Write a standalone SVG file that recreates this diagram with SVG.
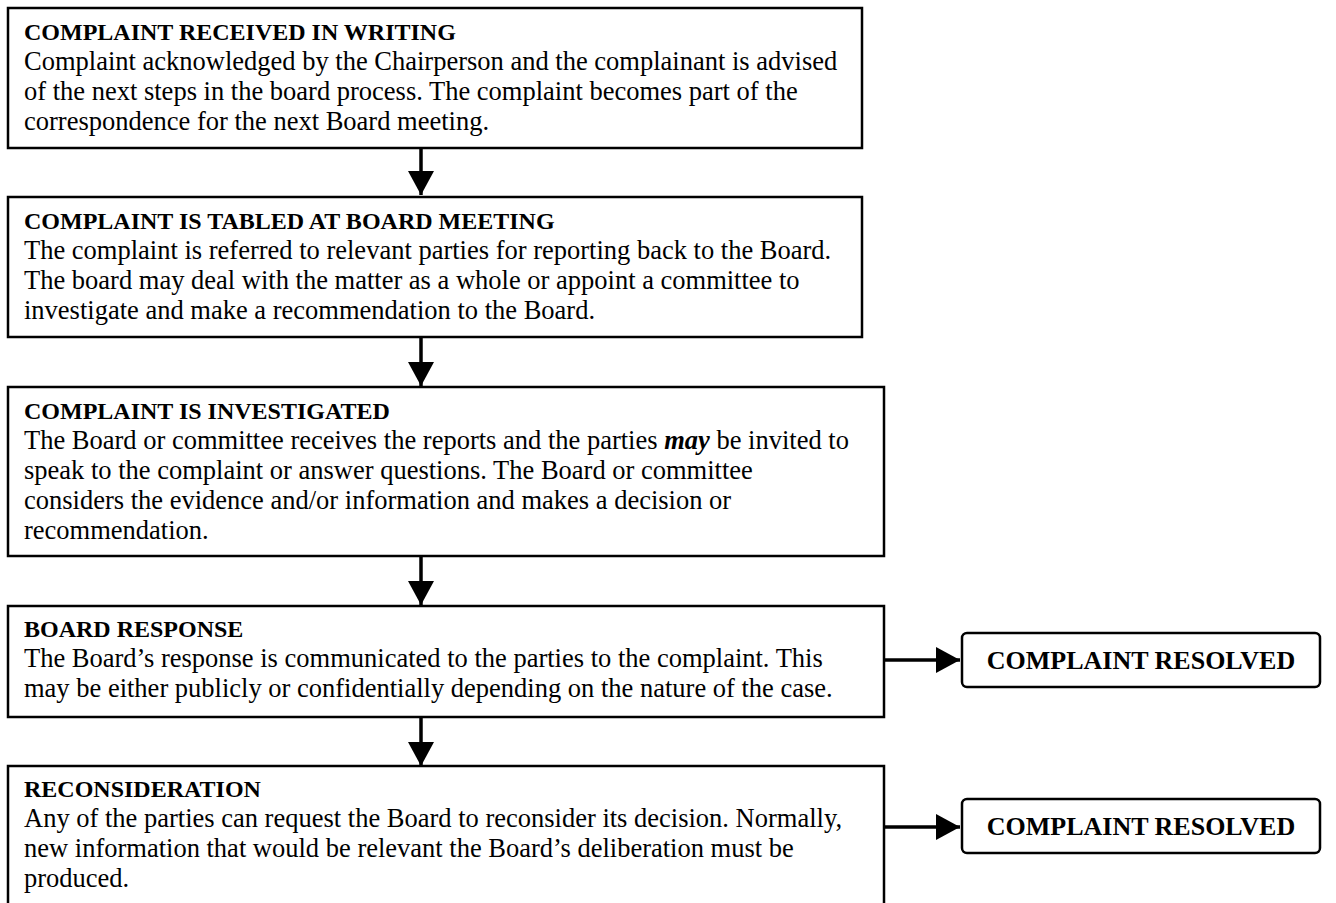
<svg xmlns="http://www.w3.org/2000/svg" width="1336" height="903" viewBox="0 0 1336 903">
<style>
.box{fill:#fff;stroke:#000;stroke-width:2.5}
.res{fill:#fff;stroke:#000;stroke-width:2.5}
.t{font-family:"Liberation Serif","Times New Roman",serif;font-size:26.5px;fill:#000}
.h{font-family:"Liberation Serif","Times New Roman",serif;font-size:24px;font-weight:bold;fill:#000}
.r{font-family:"Liberation Serif","Times New Roman",serif;font-size:26px;font-weight:bold;fill:#000}
.c{stroke:#000;stroke-width:3.5;fill:none}
</style>
<defs>
<marker id="ah" markerWidth="26" markerHeight="26" viewBox="0 0 26 26" refX="24" refY="13" orient="auto" markerUnits="userSpaceOnUse">
<path d="M0,0 L24,13 L0,26 Z" fill="#000"/>
</marker>
</defs>
<rect width="1336" height="903" fill="#fff"/>
<g id="connectors">
<line class="c" x1="421" y1="148" x2="421" y2="195" marker-end="url(#ah)"/>
<line class="c" x1="421" y1="337" x2="421" y2="386" marker-end="url(#ah)"/>
<line class="c" x1="421" y1="556" x2="421" y2="605" marker-end="url(#ah)"/>
<line class="c" x1="421" y1="717" x2="421" y2="766" marker-end="url(#ah)"/>
<line class="c" x1="884" y1="660" x2="960" y2="660" marker-end="url(#ah)"/>
<line class="c" x1="884" y1="827" x2="960" y2="827" marker-end="url(#ah)"/>
</g>
<g id="node-received">
<rect class="box" x="8" y="8" width="854" height="140"/>
<text class="h" x="24" y="40">COMPLAINT RECEIVED IN WRITING</text>
<text class="t" x="24" y="70">Complaint acknowledged by the Chairperson and the complainant is advised</text>
<text class="t" x="24" y="100">of the next steps in the board process. The complaint becomes part of the</text>
<text class="t" x="24" y="130">correspondence for the next Board meeting.</text>
</g>
<g id="node-tabled">
<rect class="box" x="8" y="197" width="854" height="140"/>
<text class="h" x="24" y="229">COMPLAINT IS TABLED AT BOARD MEETING</text>
<text class="t" x="24" y="259">The complaint is referred to relevant parties for reporting back to the Board.</text>
<text class="t" x="24" y="289">The board may deal with the matter as a whole or appoint a committee to</text>
<text class="t" x="24" y="319">investigate and make a recommendation to the Board.</text>
</g>
<g id="node-investigated">
<rect class="box" x="8" y="387" width="876" height="169"/>
<text class="h" x="24" y="419">COMPLAINT IS INVESTIGATED</text>
<text class="t" x="24" y="449">The Board or committee receives the reports and the parties <tspan font-weight="bold" font-style="italic">may</tspan> be invited to</text>
<text class="t" x="24" y="479">speak to the complaint or answer questions. The Board or committee</text>
<text class="t" x="24" y="509">considers the evidence and/or information and makes a decision or</text>
<text class="t" x="24" y="539">recommendation.</text>
</g>
<g id="node-response">
<rect class="box" x="8" y="606" width="876" height="111"/>
<text class="h" x="24" y="637">BOARD RESPONSE</text>
<text class="t" x="24" y="667">The Board’s response is communicated to the parties to the complaint. This</text>
<text class="t" x="24" y="697">may be either publicly or confidentially depending on the nature of the case.</text>
</g>
<g id="node-resolved-1">
<rect class="res" x="962" y="633" width="358" height="54" rx="5" ry="5"/>
<text class="r" x="1141" y="669" text-anchor="middle">COMPLAINT RESOLVED</text>
</g>
<g id="node-reconsideration">
<rect class="box" x="8" y="766" width="876" height="160"/>
<text class="h" x="24" y="797">RECONSIDERATION</text>
<text class="t" x="24" y="827">Any of the parties can request the Board to reconsider its decision. Normally,</text>
<text class="t" x="24" y="857">new information that would be relevant the Board’s deliberation must be</text>
<text class="t" x="24" y="887">produced.</text>
</g>
<g id="node-resolved-2">
<rect class="res" x="962" y="799" width="358" height="54" rx="5" ry="5"/>
<text class="r" x="1141" y="835" text-anchor="middle">COMPLAINT RESOLVED</text>
</g>
</svg>
